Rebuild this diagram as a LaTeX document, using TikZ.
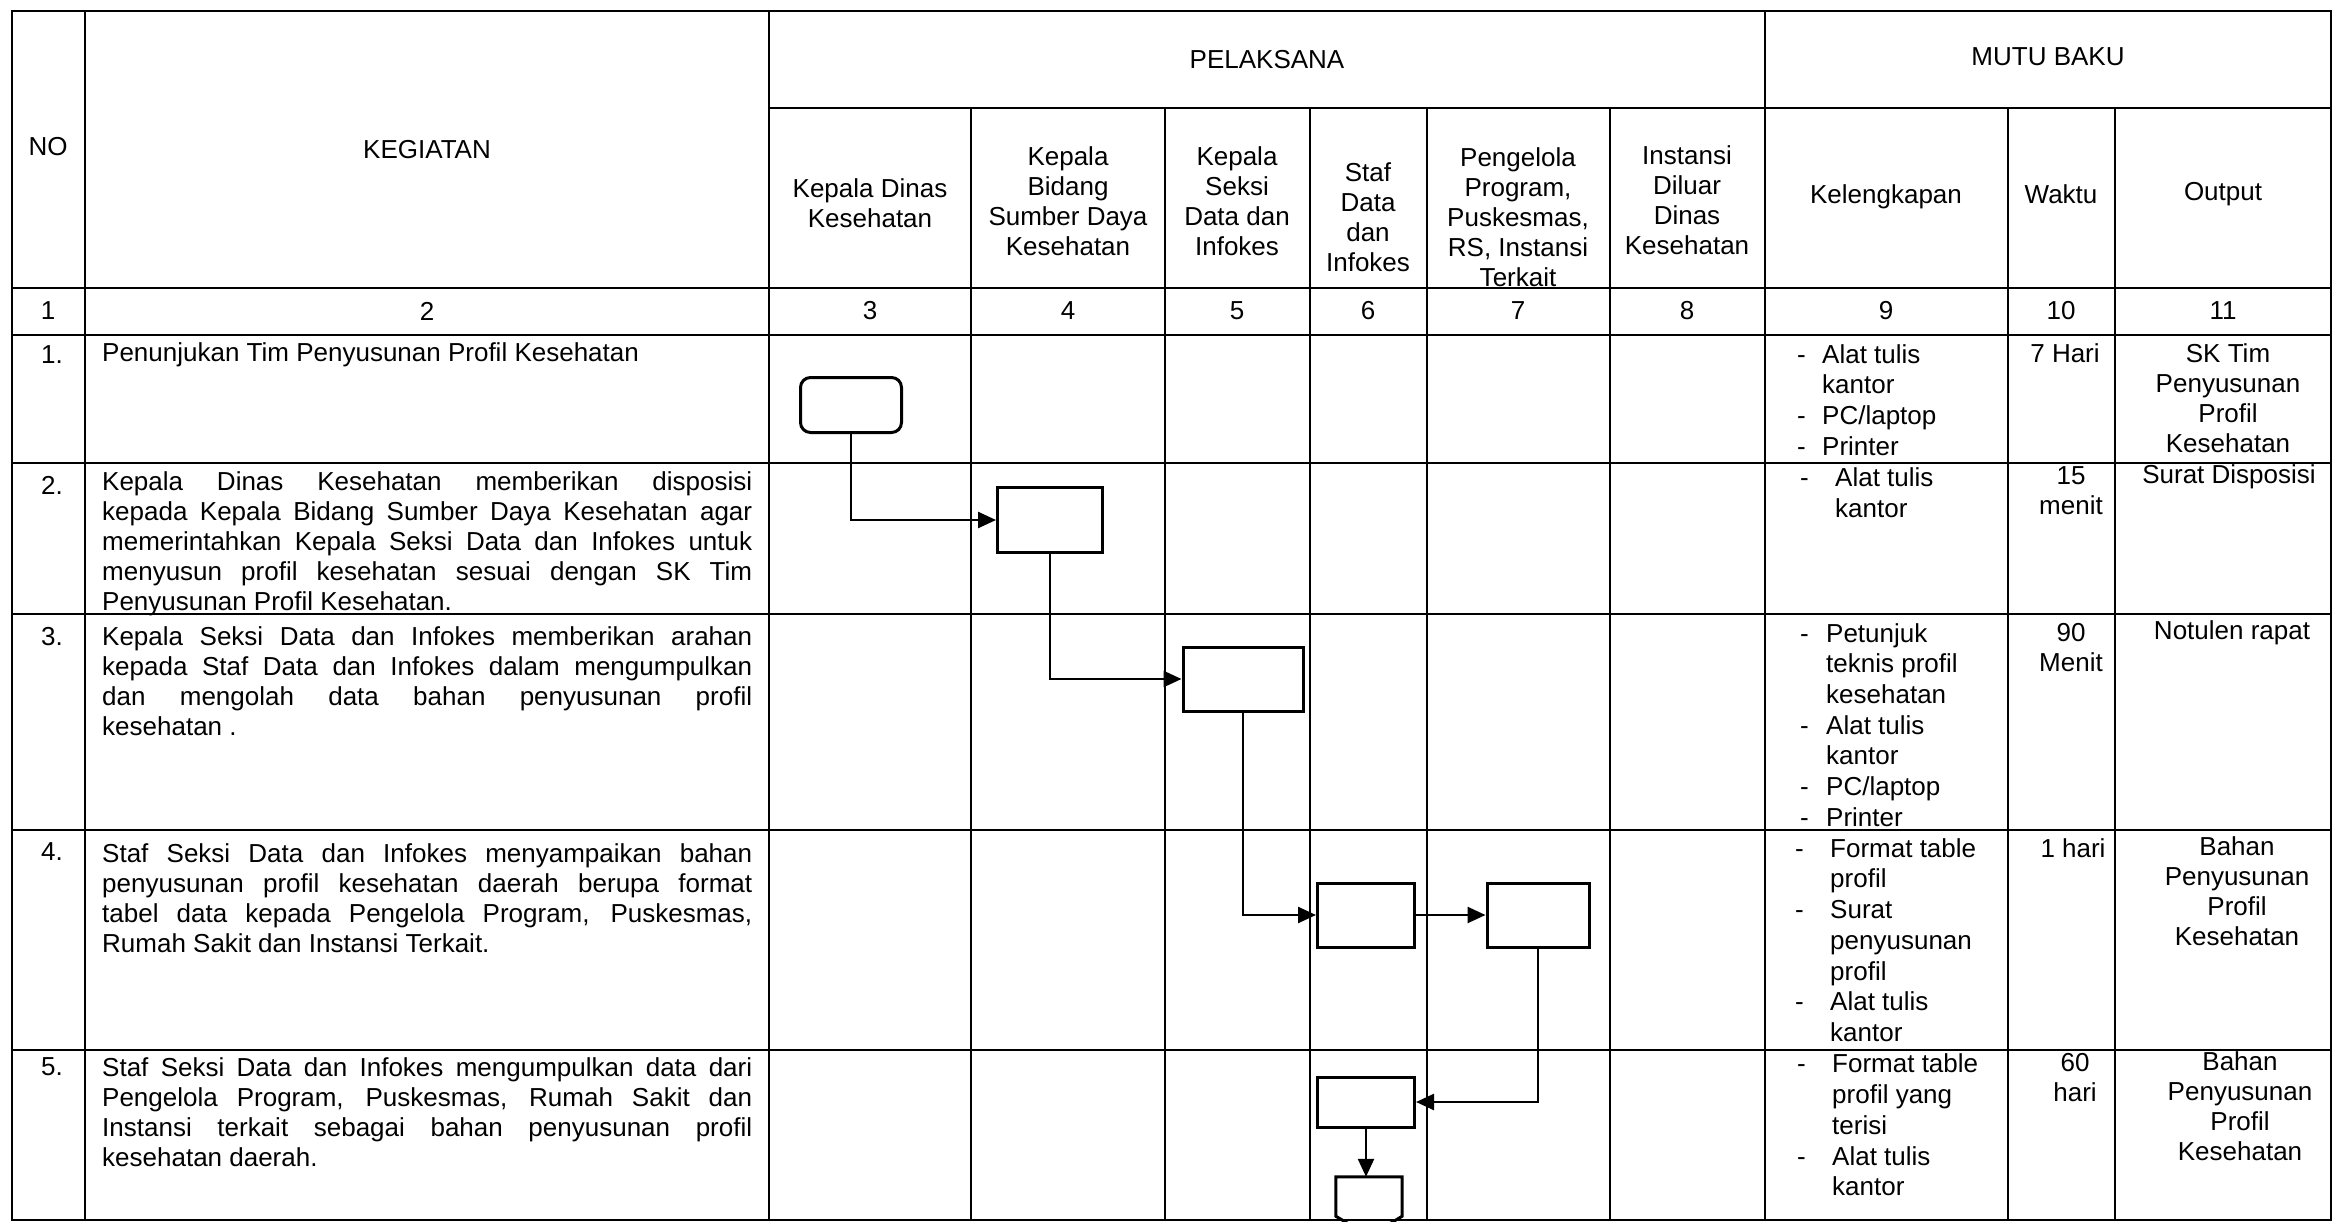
\documentclass[tikz,border=0pt]{standalone}
\usepackage{fontspec}
\setmainfont{Liberation Sans}
\usetikzlibrary{arrows.meta,calc}

\newcommand{\jl}[1]{\makebox[650pt][s]{#1}}
\newcommand{\itm}[2]{\makebox[#1][l]{-}#2}

\tikzset{
  grid/.style={line width=2pt},
  txt/.style={inner sep=0pt, align=center},
  desc/.style={inner sep=0pt, anchor=west, align=left},
  kel/.style={inner sep=0pt, anchor=west, align=left, font=\fontsize{26}{30.7}\selectfont},
  act/.style={draw, line width=3pt, inner sep=0pt},
  flow/.style={line width=2.5pt, -{Triangle[length=18pt,width=16pt]}},
}

\begin{document}
\begin{tikzpicture}[x=1pt, y=-1pt, font=\fontsize{26}{30}\selectfont]
    \useasboundingbox (0,0) rectangle (2336,1222);

    \draw[grid] (12,11) rectangle (2331,1220);
    \draw[grid] (769,108) -- (2331,108);
    \foreach \y in {288,335,463,614,830,1050} \draw[grid] (12,\y) -- (2331,\y);
    \foreach \x in {85,769,1765} \draw[grid] (\x,11) -- (\x,1220);
    \foreach \x in {971,1165,1310,1427,1610,2008,2115} \draw[grid] (\x,108) -- (\x,1220);

    \node[txt] (no) at (48,147) {NO};
    \node[txt] (keg) at (427,150) {KEGIATAN};
    \node[txt] (pel) at (1267,60) {PELAKSANA};
    \node[txt] (mutu) at (2048,57) {MUTU BAKU};
    \node[txt] (kadin) at (870,203) {Kepala Dinas\\Kesehatan};
    \node[txt] (kabid) at (1068,201) {Kepala\\Bidang\\Sumber Daya\\Kesehatan};
    \node[txt] (kasi) at (1237,201) {Kepala\\Seksi\\Data dan\\Infokes};
    \node[txt] (staf) at (1368,217) {Staf\\Data\\dan\\Infokes};
    \node[txt] (pp) at (1518,217) {Pengelola\\Program,\\Puskesmas,\\RS, Instansi\\Terkait};
    \node[txt] (inst) at (1687,200) {Instansi\\Diluar\\Dinas\\Kesehatan};
    \node[txt] (kel) at (1886,197) {Kelengkapan};
    \node[txt] (wkt) at (2061,194) {Waktu};
    \node[txt] (out) at (2223,194) {Output};

    \foreach \x/\n in {48/1,427/2,870/3,1068/4,1237/5,1368/6,1518/7,1687/8,1886/9,2061/10,2223/11}
        \node[txt] (n\n) at (\x,311) {\n};
    \foreach \y/\n in {355/1,485/2,637/3,852/4,1067/5}
        \node[txt] (r\n) at (52,\y) {\n.};

    \node[desc] (d1) at (102,355) {Penunjukan Tim Penyusunan Profil Kesehatan};
    \node[desc] (d2) at (102,544) {\jl{Kepala Dinas Kesehatan memberikan disposisi}\\
        \jl{kepada Kepala Bidang Sumber Daya Kesehatan agar}\\
        \jl{memerintahkan Kepala Seksi Data dan Infokes untuk}\\
        \jl{menyusun profil kesehatan sesuai dengan SK Tim}\\
        Penyusunan Profil Kesehatan.};
    \node[desc] (d3) at (102,681) {\jl{Kepala Seksi Data dan Infokes memberikan arahan}\\
        \jl{kepada Staf Data dan Infokes dalam mengumpulkan}\\
        \jl{dan mengolah data bahan penyusunan profil}\\
        kesehatan .};
    \node[desc] (d4) at (102,898) {\jl{Staf Seksi Data dan Infokes menyampaikan bahan}\\
        \jl{penyusunan profil kesehatan daerah berupa format}\\
        \jl{tabel data kepada Pengelola Program, Puskesmas,}\\
        Rumah Sakit dan Instansi Terkait.};
    \node[desc] (d5) at (102,1112) {\jl{Staf Seksi Data dan Infokes mengumpulkan data dari}\\
        \jl{Pengelola Program, Puskesmas, Rumah Sakit dan}\\
        \jl{Instansi terkait sebagai bahan penyusunan profil}\\
        kesehatan daerah.};

    \node[kel] (k1) at (1797,400) {\itm{25pt}{Alat tulis}\\\hspace*{25pt}kantor\\
        \itm{25pt}{PC/laptop}\\\itm{25pt}{Printer}};
    \node[kel] (k2) at (1800,493) {\itm{35pt}{Alat tulis}\\\hspace*{35pt}kantor};
    \node[kel] (k3) at (1800,725) {\itm{26pt}{Petunjuk}\\\hspace*{26pt}teknis profil\\
        \hspace*{26pt}kesehatan\\\itm{26pt}{Alat tulis}\\\hspace*{26pt}kantor\\
        \itm{26pt}{PC/laptop}\\\itm{26pt}{Printer}};
    \node[kel] (k4) at (1795,940) {\itm{35pt}{Format table}\\\hspace*{35pt}profil\\
        \itm{35pt}{Surat}\\\hspace*{35pt}penyusunan\\\hspace*{35pt}profil\\
        \itm{35pt}{Alat tulis}\\\hspace*{35pt}kantor};
    \node[kel] (k5) at (1797,1125) {\itm{35pt}{Format table}\\\hspace*{35pt}profil yang\\
        \hspace*{35pt}terisi\\\itm{35pt}{Alat tulis}\\\hspace*{35pt}kantor};

    \node[txt] (w1) at (2065,353) {7 Hari};
    \node[txt] (w2) at (2071,491) {15\\menit};
    \node[txt] (w3) at (2071,648) {90\\Menit};
    \node[txt] (w4) at (2073,848) {1 hari};
    \node[txt] (w5) at (2075,1078) {60\\hari};

    \node[txt] (o1) at (2228,398) {SK Tim\\Penyusunan\\Profil\\Kesehatan};
    \node[txt] (o2) at (2229,477) {Surat Disposisi};
    \node[txt] (o3) at (2232,633) {Notulen rapat};
    \node[txt] (o4) at (2237,891) {Bahan\\Penyusunan\\Profil\\Kesehatan};
    \node[txt] (o5) at (2240,1106) {Bahan\\Penyusunan\\Profil\\Kesehatan};

    \node[act, rounded corners=10pt, minimum width=101pt, minimum height=55pt] (t1) at (851,405) {};
    \node[act, minimum width=105pt, minimum height=65pt] (b2) at (1050,520) {};
    \node[act, minimum width=120pt, minimum height=64pt] (b3) at (1243,679) {};
    \node[act, minimum width=97pt, minimum height=64pt] (b4) at (1366,915) {};
    \node[act, minimum width=102pt, minimum height=64pt] (b5) at (1538,915) {};
    \node[act, minimum width=97pt, minimum height=50pt] (b6) at (1366,1102) {};
    \node[inner sep=0pt, minimum width=66pt, minimum height=39pt] (c7) at (1369,1196.5) {};
    \draw[line width=3pt] (c7.south west) -- (c7.north west) -- (c7.north east)
        -- (c7.south east) -- ($(c7.south)+(0,20)$) -- cycle;

    \draw[flow] (t1.south) |- (b2.west);
    \draw[flow] (b2.south) |- (b3.west);
    \draw[flow] (b3.south) |- (b4.west);
    \draw[flow] (b4.east) -- (b5.west);
    \draw[flow] (b5.south) |- (b6.east);
    \draw[flow] (b6.south) -- (b6.south |- c7.north);
\end{tikzpicture}
\end{document}
